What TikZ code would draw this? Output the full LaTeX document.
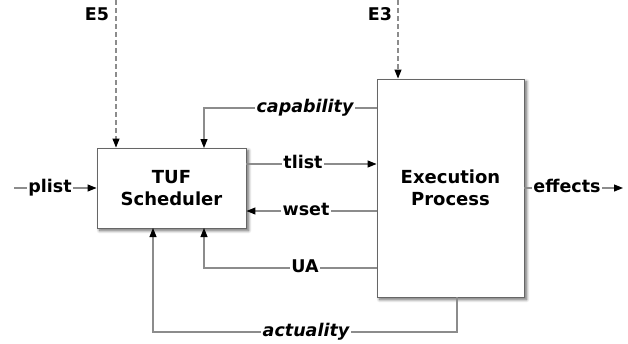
\documentclass[tikz,border=0pt]{standalone}
\usepackage{fontspec}
\setmainfont{DejaVu Sans}
\usetikzlibrary{arrows.meta,shadows.blur}
\begin{document}
\begin{tikzpicture}[x=1pt,y=-1pt,
  box/.style={draw=black!60, line width=0.9pt, fill=white,
    blur shadow={shadow xshift=2.5pt, shadow yshift=-2.5pt, shadow blur steps=8, shadow blur radius=3pt, shadow opacity=60},
    font=\bfseries\fontsize{18}{21.5}\selectfont, align=center, inner sep=0pt},
  lbl/.style={font=\bfseries\fontsize{17.5}{20}\selectfont, inner sep=1.5pt, text height=13pt, text depth=4pt},
  ilbl/.style={lbl, font=\bfseries\itshape\fontsize{17.5}{20}\selectfont},
  wire/.style={draw=black!45, line width=1.1pt},
  arr/.style={wire, -{Triangle[length=9pt,width=7pt,color=black]}},
  ext/.style={arr, dash pattern=on 5pt off 3pt}]
\useasboundingbox (0,0) rectangle (628,343);

% blocks
\node[box, minimum width=149pt, minimum height=80pt] (tuf) at (171.5,188) {TUF\\Scheduler};
\node[box, minimum width=147pt, minimum height=218pt] (exe) at (450.5,188) {Execution\\Process};

% signal labels
\node[lbl] (e5) at (97,16) {E5};
\node[lbl] (e3) at (380,16) {E3};
\node[lbl] (plist) at (50,188) {plist};
\node[lbl] (effects) at (567,188) {effects};
\node[ilbl] (cap) at (305,108) {capability};
\node[lbl] (tlist) at (303,164) {tlist};
\node[lbl] (wset) at (306,211) {wset};
\node[lbl] (ua) at (305,268) {UA};
\node[ilbl] (act) at (306,332) {actuality};

% free ends and ports
\coordinate (e5top) at (116,0);
\coordinate (e3top) at (398,0);
\coordinate (plistin) at (14,188);
\coordinate (effout) at (623,188);
\coordinate (capin) at (204,148);
\coordinate (uain) at (204,228);
\coordinate (actin) at (153,228);
\coordinate (actout) at (457,297);

% external events
\draw[ext] (e5top) -- (e5top |- tuf.north);
\draw[ext] (e3top) -- (e3top |- exe.north);

% input and output
\draw[wire] (plistin) -- (plist.west);
\draw[arr] (plist.east) -- (tuf.west);
\draw[wire] (exe.east |- effects) -- (effects.west);
\draw[arr] (effects.east) -- (effout);

% scheduler <-> execution
\draw[wire] (exe.west |- cap) -- (cap.east);
\draw[arr] (cap.west) -| (capin);
\draw[wire] (tuf.east |- tlist) -- (tlist.west);
\draw[arr] (tlist.east) -- (exe.west |- tlist);
\draw[wire] (exe.west |- wset) -- (wset.east);
\draw[arr] (wset.west) -- (tuf.east |- wset);
\draw[wire] (exe.west |- ua) -- (ua.east);
\draw[arr] (ua.west) -| (uain);
\draw[wire] (actout) |- (act.east);
\draw[arr] (act.west) -| (actin);
\end{tikzpicture}
\end{document}
